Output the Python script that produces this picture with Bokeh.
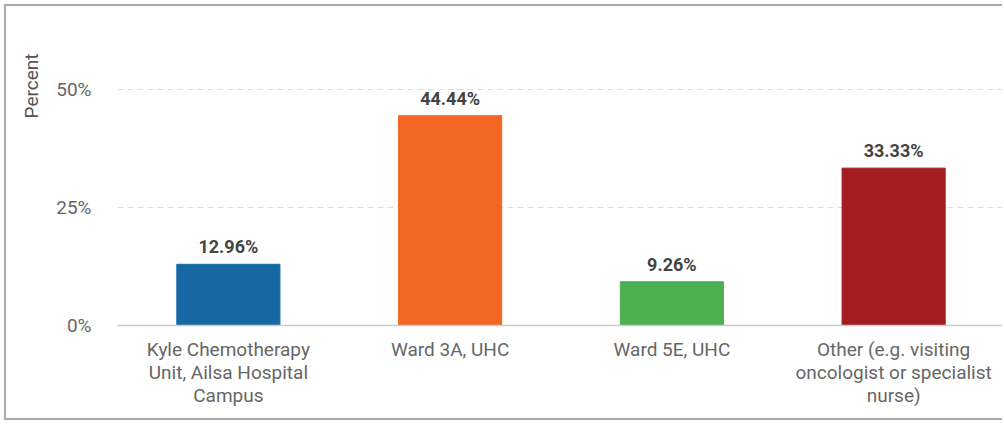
from bokeh.plotting import figure
from bokeh.models import ColumnDataSource, FixedTicker, Title
from bokeh.core.properties import value
from bokeh.embed import file_html
from bokeh.resources import INLINE

categories = [
    "Kyle Chemotherapy\nUnit, Ailsa Hospital\nCampus",
    "Ward 3A, UHC",
    "Ward 5E, UHC",
    "Other (e.g. visiting\noncologist or specialist\nnurse)",
]
percent = [12.96, 44.44, 9.26, 33.33]
labels = ["12.96%", "44.44%", "9.26%", "33.33%"]
colors = ["#1668a3", "#f26722", "#4caf50", "#a51c20"]
y_ticks = [0, 25, 50]
y_tick_labels = {0: "0%", 25: "25%", 50: "50%"}

FONT = "Roboto"

src = ColumnDataSource(dict(cat=categories, pct=percent, lab=labels, col=colors))

p = figure(
    width=998, height=416, x_range=categories, y_range=(0, 64.6),
    output_backend="svg", toolbar_location=None,
    min_border_left=111, min_border_right=0, min_border_top=14, min_border_bottom=97,
)
p.margin = (4, 0, 0, 4)
p.styles = {"border-left": "2px solid #aaaaaa", "border-top": "2px solid #aaaaaa",
            "border-bottom": "2px solid #aaaaaa"}
p.outline_line_color = None
p.background_fill_color = "white"
p.border_fill_color = "white"

p.vbar(x="cat", top="pct", width=0.465, color="col", source=src)
p.text(x="cat", y="pct", text="lab", source=src, text_align="center",
       text_baseline="bottom", y_offset=-7, text_font=value(FONT),
       text_font_size="18px", text_font_style="bold", text_color="#444444")

# axes
p.yaxis.ticker = FixedTicker(ticks=y_ticks)
p.yaxis.major_label_overrides = y_tick_labels
p.yaxis.axis_line_color = None
p.yaxis.major_tick_line_color = None
p.yaxis.minor_tick_line_color = None
p.yaxis.major_label_standoff = 20
p.yaxis.major_label_text_font = FONT
p.yaxis.major_label_text_font_size = "19px"
p.yaxis.major_label_text_color = "#666666"

p.xaxis.axis_line_color = "#cccccc"
p.xaxis.axis_line_width = 1.5
p.xaxis.major_tick_line_color = None
p.xaxis.minor_tick_line_color = None
p.xaxis.major_label_standoff = 6
p.xaxis.major_label_text_font = FONT
p.xaxis.major_label_text_font_size = "19px"
p.xaxis.major_label_text_color = "#666666"
p.xaxis.major_label_text_line_height = 1.0

p.xgrid.grid_line_color = None
p.ygrid.grid_line_color = "#dddddd"
p.ygrid.grid_line_dash = "6 4"
p.ygrid.grid_line_width = 1

t = Title(text="Percent", align="right", offset=33, standoff=22,
          text_font=FONT, text_font_size="19px", text_font_style="normal",
          text_color="#555555")
p.add_layout(t, "left")

open("out.html", "w").write(file_html(p, INLINE))
